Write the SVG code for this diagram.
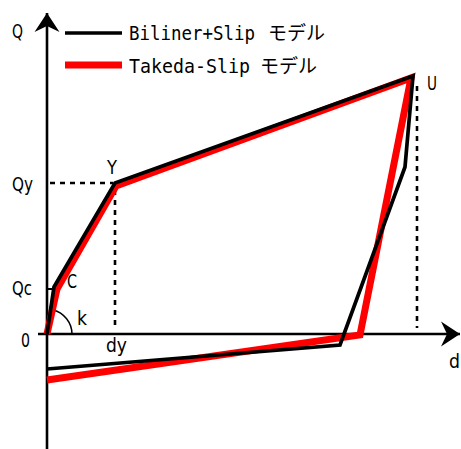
<svg xmlns="http://www.w3.org/2000/svg" width="461" height="449" viewBox="0 0 461 449">
<defs>
<style>
.axis{stroke:#000;stroke-width:2.6;fill:none}
.dash{stroke:#000;stroke-width:2.6;stroke-dasharray:5 5;fill:none}
.blk{stroke:#000;stroke-width:3.7;fill:none;stroke-linejoin:miter}
.red{stroke:#ff0000;stroke-width:7;fill:none;stroke-linejoin:miter}
.lbl{font-family:"DejaVu Sans","Noto Sans CJK JP",sans-serif;font-size:20px;fill:#000}
.mono{font-family:"DejaVu Sans Mono","Noto Sans CJK JP",monospace;font-size:20px;fill:#000}
.jp{font-family:"Noto Sans CJK JP",sans-serif;font-size:19px;fill:#000}
</style>
<marker id="arr" markerUnits="userSpaceOnUse" markerWidth="24" markerHeight="28" viewBox="-22 -13 24 26" refX="0" refY="0" orient="auto">
<path d="M0,0 L-19,-12.5 L-13,0 L-19,12.5 Z" fill="#000"/>
</marker>
</defs>
<rect width="461" height="449" fill="#fff"/>
<g id="axes">
<line class="axis" x1="47" y1="449" x2="47" y2="13" marker-end="url(#arr)"/>
<line class="axis" x1="38" y1="334" x2="460" y2="334" marker-end="url(#arr)"/>
</g>
<g id="guides">
<line class="dash" x1="50" y1="183" x2="113" y2="183"/>
<line class="dash" x1="115" y1="190" x2="115" y2="330"/>
<line class="dash" x1="417" y1="86" x2="417" y2="328"/>
<line class="axis" x1="47" y1="289" x2="55" y2="289" style="stroke-width:2"/>
<path class="axis" d="M72,334 A25,25 0 0 0 53,310" style="stroke-width:1.5"/>
</g>
<g id="curves">
<polyline class="red" points="47,334 57,289 116,186 411,78 360,335 47,380"/>
<polyline class="blk" points="47,334 54,287 115,183 413,76 405,167 340,345 47,369"/>
</g>
<g id="legend">
<line class="blk" x1="65" y1="33" x2="122" y2="33"/>
<line class="red" x1="65" y1="65" x2="122" y2="65"/>
<text class="mono" x="129" y="39.5" textLength="126" lengthAdjust="spacingAndGlyphs">Biliner+Slip</text>
<text class="jp" x="268" y="40">モデル</text>
<text class="mono" x="129" y="72.5" textLength="121" lengthAdjust="spacingAndGlyphs">Takeda-Slip</text>
<text class="jp" x="260" y="73">モデル</text>
</g>
<g id="labels">
<text class="lbl" x="12" y="38" textLength="11" lengthAdjust="spacingAndGlyphs">Q</text>
<text class="lbl" x="12" y="191" textLength="21" lengthAdjust="spacingAndGlyphs">Qy</text>
<text class="lbl" x="12" y="295" textLength="20" lengthAdjust="spacingAndGlyphs">Qc</text>
<text class="lbl" x="21" y="347" textLength="9" lengthAdjust="spacingAndGlyphs">0</text>
<text class="lbl" x="106" y="352" textLength="21" lengthAdjust="spacingAndGlyphs">dy</text>
<text class="lbl" x="449" y="368" textLength="11" lengthAdjust="spacingAndGlyphs">d</text>
<text class="lbl" x="107" y="174" textLength="10" lengthAdjust="spacingAndGlyphs">Y</text>
<text class="lbl" x="67" y="288" textLength="10" lengthAdjust="spacingAndGlyphs">C</text>
<text class="lbl" x="77" y="325" textLength="10" lengthAdjust="spacingAndGlyphs">k</text>
<text class="lbl" x="427" y="90" textLength="10" lengthAdjust="spacingAndGlyphs">U</text>
</g>
</svg>
